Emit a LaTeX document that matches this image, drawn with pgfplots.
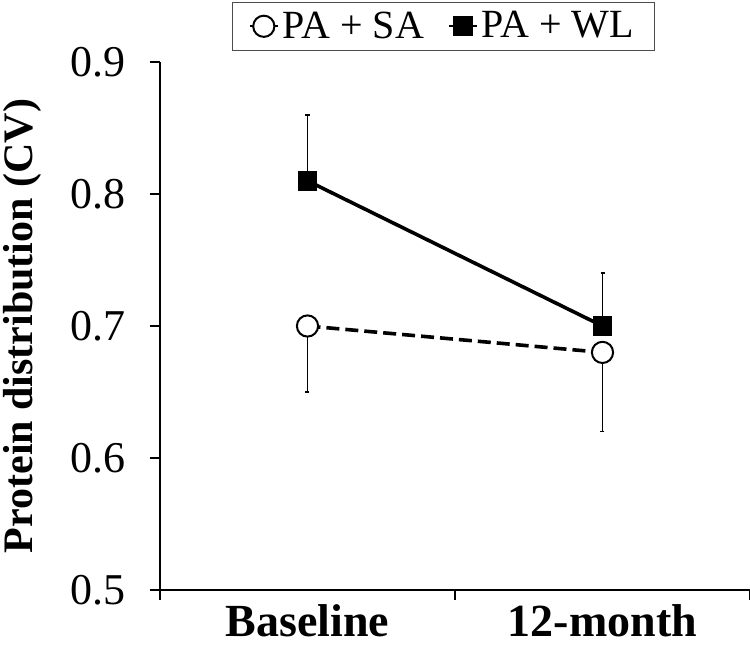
\documentclass[border=0pt]{standalone}
\usepackage{pgfplots}
\pgfplotsset{compat=1.18}
\usepackage{fontspec}
\setmainfont{Liberation Serif}
\begin{document}
\begin{tikzpicture}
\path[use as bounding box] (-80pt,-35.5pt) rectangle (295pt,295pt);
\begin{axis}[
  at={(0,0)}, anchor=south west,
  scale only axis, width=295pt, height=264pt,
  xmin=-0.5, xmax=1.5, ymin=0.5, ymax=0.9,
  axis lines=left, axis line style={-, line width=0.8pt},
  xtick={-0.5,0.5,1.5}, xticklabels={},
  extra x ticks={0,1}, extra x tick labels={Baseline,12-month},
  extra x tick style={major tick length=0pt, tick style={draw=none},
     tick label style={font=\bfseries\fontsize{23}{27}\selectfont, yshift=-4pt}},
  ytick={0.5,0.6,0.7,0.8,0.9},
  yticklabel style={xshift=-8.5pt, /pgf/number format/.cd, fixed, fixed zerofill, precision=1},
  /pgf/number format/assume math mode=true,
  tick align=outside,
  major tick length=5pt,
  tick style={black, line width=0.8pt},
  ticklabel style={font=\fontsize{22}{26}\selectfont},
  clip=false,
  ylabel={Protein distribution (CV)},
  ylabel style={font=\bfseries\fontsize{21}{25}\selectfont, at={(axis description cs:-0.234,0.5)}, anchor=center},
  legend style={at={(axis description cs:0.4805,1.1136)}, anchor=north, draw=black!70, line width=0.5pt,
     inner xsep=8pt, inner ysep=2.5pt,
     font=\fontsize{20}{24}\selectfont, /tikz/every even column/.append style={column sep=10pt}},
  legend columns=2,
  legend image code/.code={\draw[mark repeat=2,mark phase=2,#1,solid,line width=1pt] plot coordinates {(0pt,0pt) (7pt,0pt) (14pt,0pt)};},
]
\addplot[black, line width=1.8pt, dash pattern=on 6.5pt off 3pt,
  mark=*, mark size=5.3pt, mark options={solid, fill=white, draw=black, line width=1pt},
  error bars/.cd, y dir=minus, y explicit,
  error bar style={line width=0.75pt, solid},
  error mark options={rotate=90, mark size=1pt, line width=0.75pt}]
  coordinates {(0,0.70) -= (0,0.05) (1,0.68) -= (0,0.06)};
\addlegendentry{PA + SA}
\addplot[black, line width=1.8pt, solid,
  mark=square*, mark size=4.7pt, mark options={solid, fill=black, draw=black, line width=0.5pt},
  error bars/.cd, y dir=plus, y explicit,
  error bar style={line width=0.75pt, solid},
  error mark options={rotate=90, mark size=1pt, line width=0.75pt}]
  coordinates {(0,0.81) += (0,0.05) (1,0.70) += (0,0.04)};
\addlegendentry{PA + WL}
\end{axis}
\end{tikzpicture}
\end{document}
